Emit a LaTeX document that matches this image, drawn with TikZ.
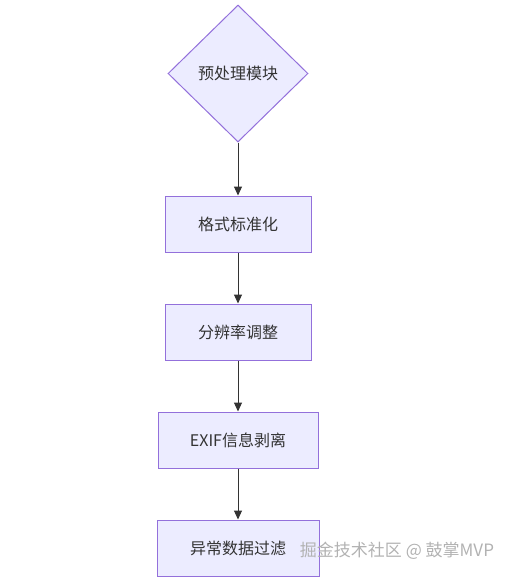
\documentclass[tikz,border=0pt]{standalone}
\usepackage{fontspec}
\setmainfont{Noto Sans CJK SC}
\usetikzlibrary{arrows.meta,positioning,shapes.geometric}
\definecolor{FlowLine}{HTML}{333333}
\definecolor{FlowEdge}{HTML}{9370DB}
\definecolor{FlowFill}{HTML}{ECECFF}
\tikzset{>={Triangle[length=9pt,width=8pt]},every node/.style={font=\fontsize{16}{18}\selectfont,text=FlowLine},
 stage/.style={draw=FlowEdge,fill=FlowFill,line width=1pt,minimum height=56pt,align=center},
 decide/.style={diamond,aspect=1,inner sep=0pt,draw=FlowEdge,fill=FlowFill,line width=1pt,
 minimum width=140pt,minimum height=137pt},
 flow/.style={draw=FlowLine,line width=1pt,->}}

\begin{document}
\begin{tikzpicture}[x=1pt,y=-1pt,node distance=51pt]
\useasboundingbox (0,0) rectangle (512,582);
\node[decide] (pre) at (238,73.5) {预处理模块};
\node[stage,minimum width=146pt,below=53pt of pre] (fmt) {格式标准化};
\node[stage,minimum width=146pt,below=of fmt] (res) {分辨率调整};
\node[stage,minimum width=160pt,below=of res] (exif) {EXIF信息剥离};
\node[stage,minimum width=162pt,below=of exif] (filt) {异常数据过滤};
\node[text=black!30,font=\fontsize{17}{19}\selectfont] (wm) at (397,551) {掘金技术社区 @ 鼓掌MVP};
\draw[flow] (pre)--(fmt);
\draw[flow] (fmt)--(res);
\draw[flow] (res)--(exif);
\draw[flow] (exif)--(filt);
\end{tikzpicture}
\end{document}
